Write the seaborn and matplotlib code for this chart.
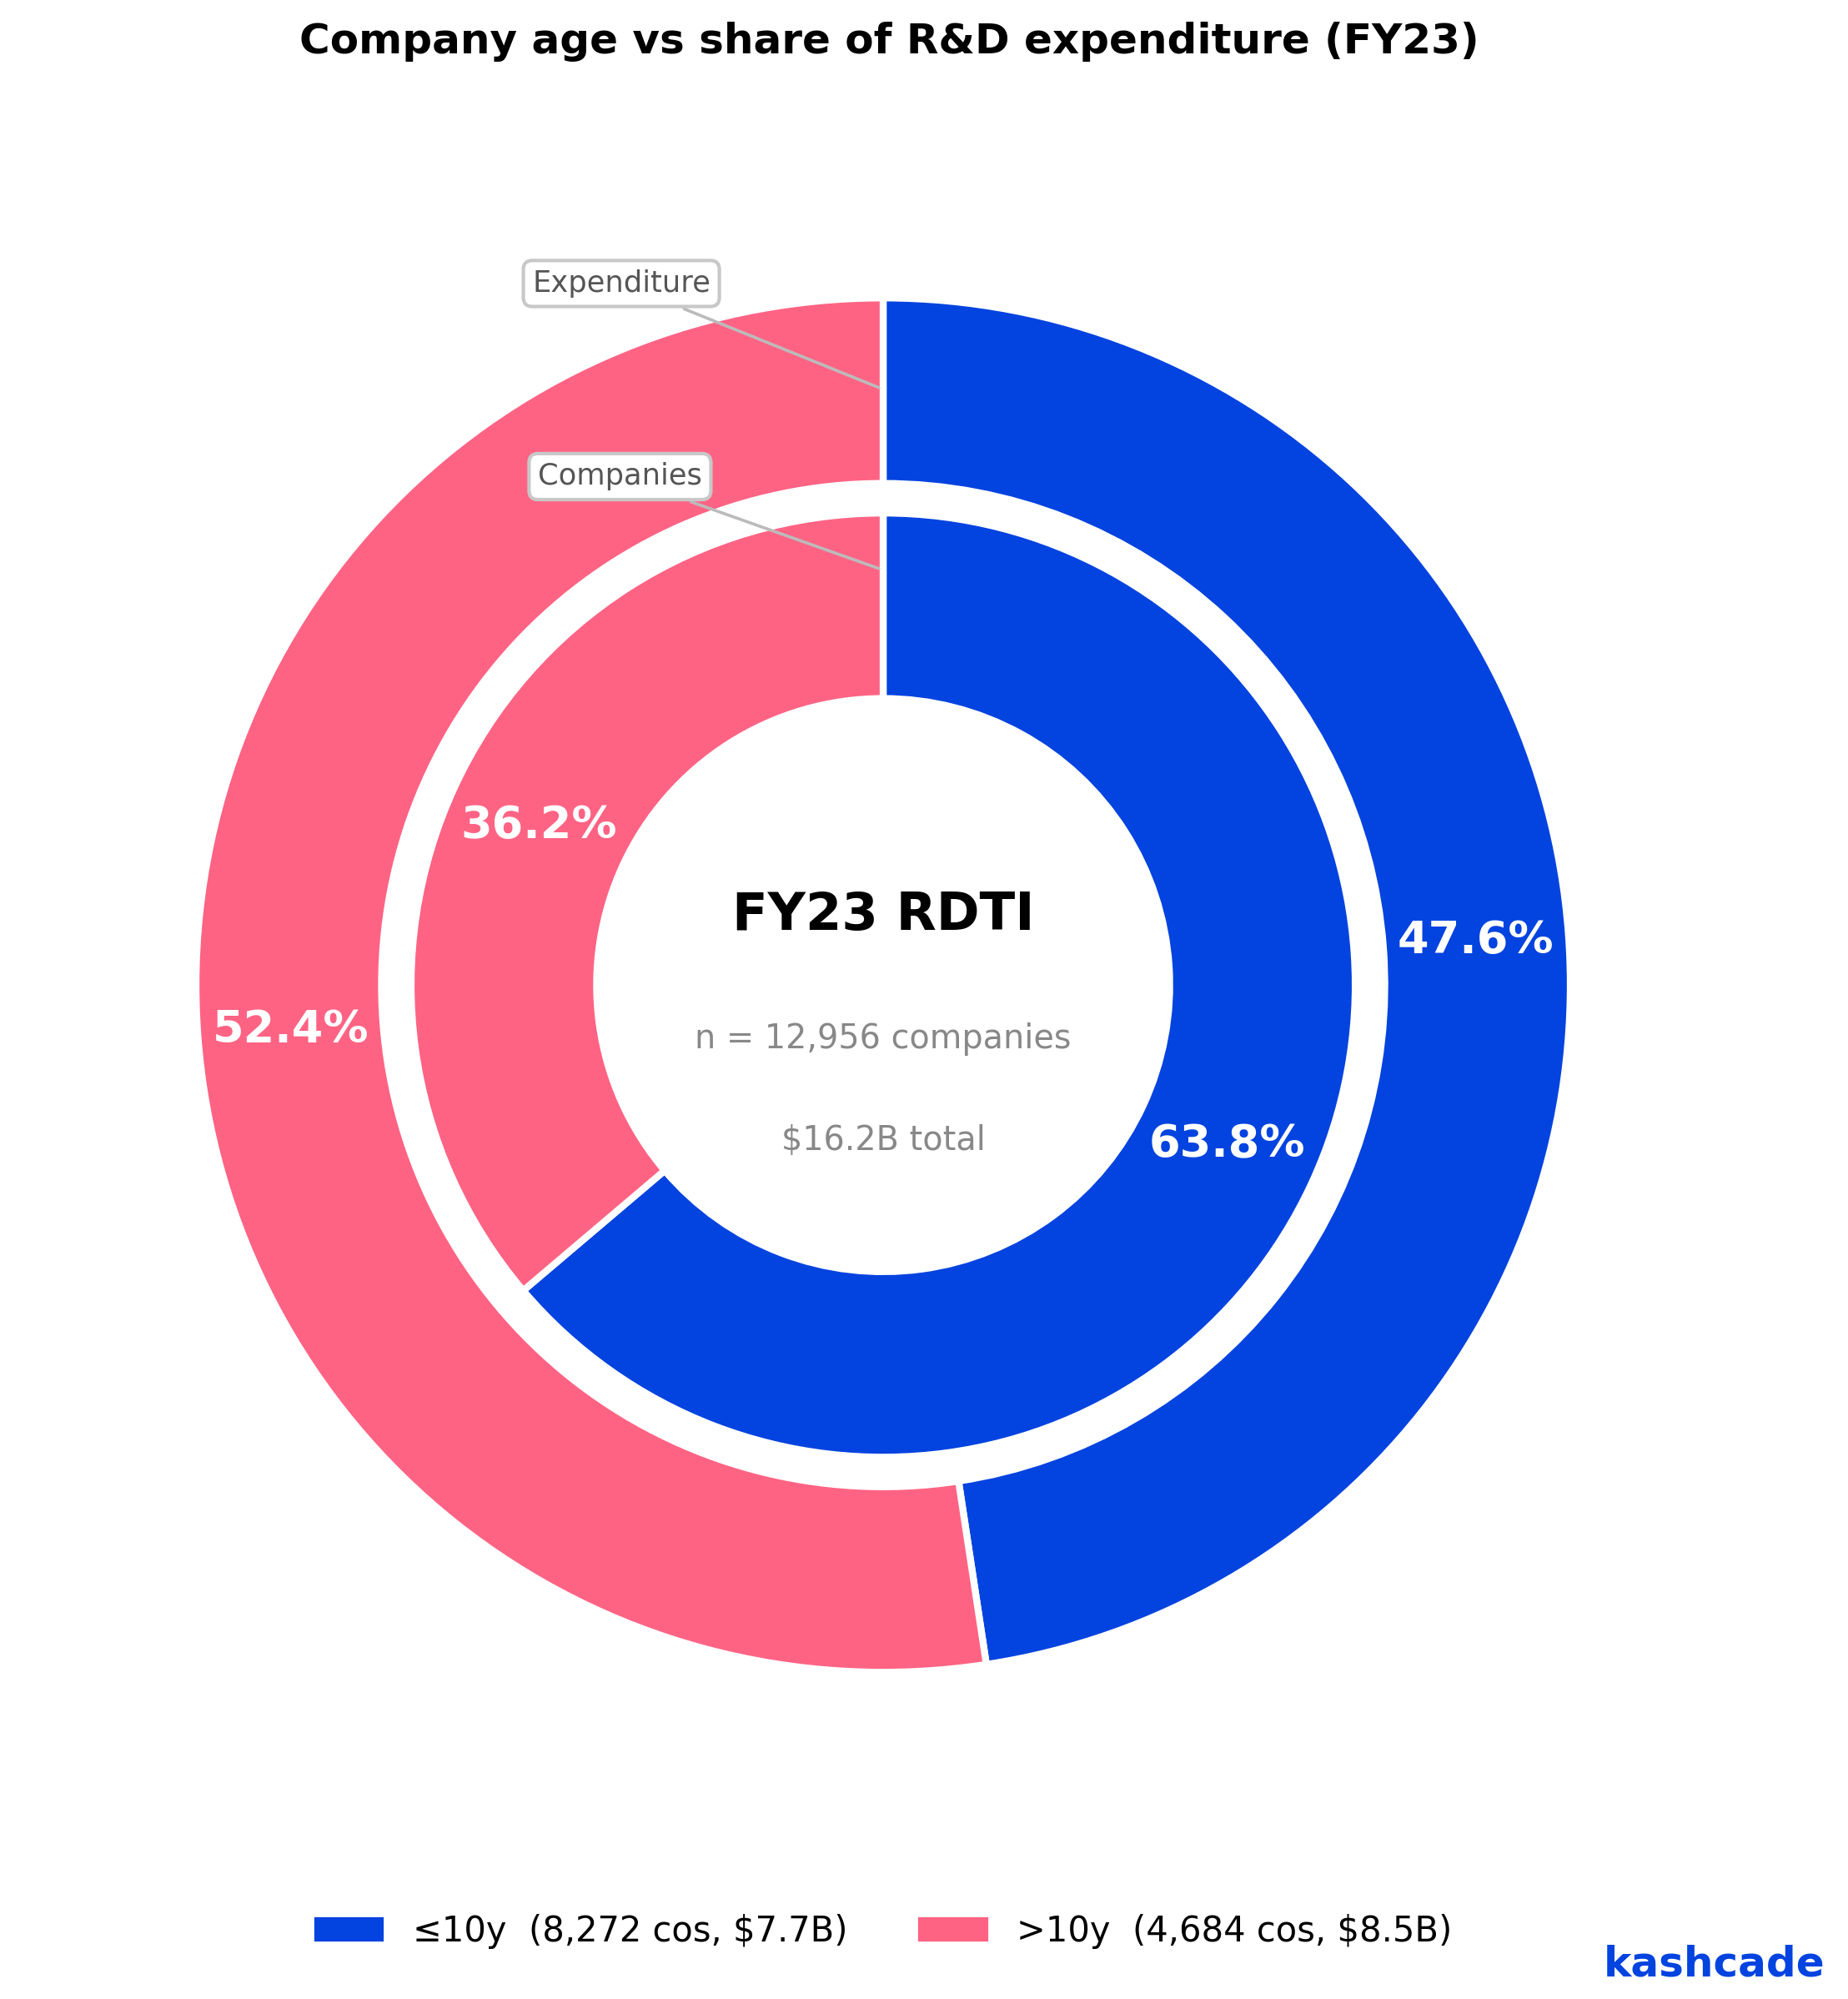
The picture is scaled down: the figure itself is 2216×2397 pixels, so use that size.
import matplotlib
matplotlib.use("Agg")
import matplotlib.pyplot as plt
import seaborn as sns
from matplotlib.patches import Patch

sns.set_theme(style="white")
plt.rcParams['font.family'] = ['DejaVu Sans']

groups = ["≤10y", ">10y"]
companies = [8272, 4684]
expenditure_b = [7.7, 8.5]
company_share = [63.8, 36.2]
expenditure_share = [47.6, 52.4]
colors = ["#0343DF", "#FF6384"]

fig = plt.figure(figsize=(11.08, 11.985), dpi=200)
ax = fig.add_axes([0.0131, 0.0775, 0.9296, 0.8594])

outer_w = 0.27
inner_r = 0.687
ax.pie(expenditure_share, radius=1.0, colors=colors, startangle=90, counterclock=False,
       autopct='%1.1f%%', pctdistance=0.865,
       wedgeprops=dict(width=outer_w, edgecolor='white', linewidth=3),
       textprops=dict(color='white', fontsize=19.5, fontweight='bold'))
ax.pie(company_share, radius=inner_r, colors=colors, startangle=90, counterclock=False,
       autopct='%1.1f%%', pctdistance=(inner_r - 0.135) / inner_r,
       wedgeprops=dict(width=0.27, edgecolor='white', linewidth=3),
       textprops=dict(color='white', fontsize=19.5, fontweight='bold'))

ax.set_xlim(-1.25, 1.25)
ax.set_ylim(-1.25, 1.25)
ax.set_aspect('equal')
ax.axis('off')

bbox = dict(boxstyle='round,pad=0.3', fc='white', ec='#c8c8c8', lw=1.5)
ax.annotate("Expenditure", xy=(0, 0.867), xytext=(-0.381, 1.021), ha='center', va='center',
            fontsize=12.7, color='#555555', bbox=bbox,
            arrowprops=dict(arrowstyle='-', color='#bbbbbb', lw=1.3))
ax.annotate("Companies", xy=(0, 0.604), xytext=(-0.383, 0.740), ha='center', va='center',
            fontsize=12.7, color='#555555', bbox=bbox,
            arrowprops=dict(arrowstyle='-', color='#bbbbbb', lw=1.3))

ax.text(0, 0.101, "FY23 RDTI", ha='center', va='center', fontsize=22.5, fontweight='bold', color='black')
ax.text(0, -0.0785, f"n = {sum(companies):,} companies", ha='center', va='center', fontsize=14.3, color='#888888')
ax.text(0, -0.227, f"${sum(expenditure_b):.1f}B total", ha='center', va='center', fontsize=14.3, color='#888888')

fig.suptitle("Company age vs share of R&D expenditure (FY23)", fontsize=18, fontweight='bold',
             x=0.481, y=0.979, va='center', color='black')

handles = [Patch(facecolor=colors[i], edgecolor='white',
                 label=f"{groups[i]}  ({companies[i]:,} cos, ${expenditure_b[i]}B)") for i in range(2)]
fig.legend(handles=handles, loc='center', bbox_to_anchor=(0.4775, 0.034), ncol=2, frameon=False,
           fontsize=15, handlelength=2.07, handleheight=0.81, handletextpad=0.8, columnspacing=2.0,
           labelcolor='black')

fig.text(0.9875, 0.0175, "kashcade", ha='right', va='center', fontsize=18, fontweight='bold', color='#0343DF')

fig.savefig("out.png", dpi=200, facecolor='white')
